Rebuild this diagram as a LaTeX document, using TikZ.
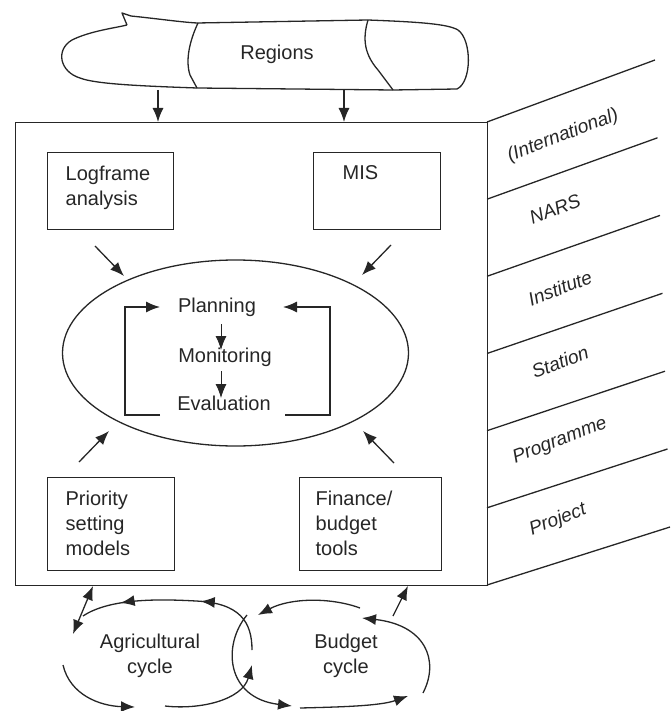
\documentclass[tikz,border=0pt]{standalone}
\usepackage{fontspec}
\setmainfont{Liberation Sans}
\usetikzlibrary{arrows.meta,decorations.markings,shapes.geometric}
\definecolor{ink}{gray}{0.15}
\tikzset{
  tip/.tip={Latex[length=14pt,width=11pt]},
  arr/.style={-tip},
  dblarr/.style={tip-tip},
  txt/.style={font=\fontsize{20}{25}\selectfont, inner sep=0pt, align=left, text=ink},
  lvl/.style={font=\fontsize{19}{22}\selectfont\itshape, rotate=21, inner sep=0pt, text=ink},
  boxnode/.style={draw=ink, line width=1.3pt, inner sep=0pt, anchor=north west},
  twomarks/.style 2 args={postaction={decorate},
    decoration={markings,
      mark=at position #1 with {\arrow{tip}},
      mark=at position #2 with {\arrow{tip}}}}
}
\begin{document}
\begin{tikzpicture}[x=1pt,y=-1pt,line width=1.3pt,color=ink]
\useasboundingbox (0,0) rectangle (670,711);

% Regions scroll
\draw[line join=round] (127,25) -- (122,13) -- (131,16)
  .. controls (160,19) and (180,22) .. (197,23) -- (368,20)
  .. controls (420,22) and (448,24) .. (458,30)
  .. controls (472,40) and (472,82) .. (457,89) -- (393,90) -- (197,88)
  .. controls (140,86) and (95,84) .. (80,78)
  .. controls (60,72) and (55,50) .. (72,40)
  .. controls (90,31) and (115,28) .. (127,25);
\draw (198,23) .. controls (190,40) and (185,60) .. (190,75) -- (197,88);
\draw (368,20) .. controls (362,40) and (365,55) .. (378,70) -- (393,90);
\node[txt, anchor=base] (regions) at (277,60) {Regions};

% main box
\node[boxnode, minimum width=472pt, minimum height=463pt] (main) at (15,122) {};
\coordinate (rs1) at (158,90);
\coordinate (rs2) at (344,90);
\draw[arr] (rs1) -- (rs1 |- main.north);
\draw[arr] (rs2) -- (rs2 |- main.north);

% level strips
\draw (487,122) -- (655,60);
\draw (487,199.2) -- (657.5,137.8);
\draw (487,276.3) -- (660,215.4);
\draw (487,353.5) -- (662.5,293.3);
\draw (487,430.7) -- (665,371.2);
\draw (487,507.8) -- (667.5,449);
\draw (487,585) -- (670,527);
\node[lvl] (intl) at (563,136) {(International)};
\node[lvl] (nars) at (555,209) {NARS};
\node[lvl] (inst) at (560,288) {Institute};
\node[lvl] (stat) at (560,362) {Station};
\node[lvl] (prog) at (560,441) {Programme};
\node[lvl] (proj) at (558,520) {Project};

% inner boxes
\node[boxnode, minimum width=126pt, minimum height=77pt] (logbox) at (47,152) {};
\node[boxnode, minimum width=127pt, minimum height=77pt] (misbox) at (313,152) {};
\node[boxnode, minimum width=127pt, minimum height=93pt] (pribox) at (47,477) {};
\node[boxnode, minimum width=142pt, minimum height=93pt] (finbox) at (299,477) {};
\node[txt, anchor=north west] (logtxt) at (65,165) {Logframe\\analysis};
\node[txt, anchor=north west] (mistxt) at (342,165) {MIS};
\node[txt, anchor=north west] (pritxt) at (65,490) {Priority\\setting\\models};
\node[txt, anchor=north west] (fintxt) at (315,490) {Finance/\\budget\\tools};

% ellipse
\node[draw=ink, line width=1.3pt, ellipse, minimum width=346pt, minimum height=186pt, inner sep=0pt] (ell) at (235.5,353) {};
\coordinate (a1s) at (95,246);  \coordinate (a1e) at (124,276);
\coordinate (a2s) at (391,245); \coordinate (a2e) at (362,275);
\coordinate (a3s) at (79,462);  \coordinate (a3e) at (109,431);
\coordinate (a4s) at (394,463); \coordinate (a4e) at (363,431);
\draw[arr] (a1s) -- (a1e);
\draw[arr] (a2s) -- (a2e);
\draw[arr] (a3s) -- (a3e);
\draw[arr] (a4s) -- (a4e);

% PME
\node[txt, anchor=base] (plan) at (217,312) {Planning};
\node[txt, anchor=base] (moni) at (225,362) {Monitoring};
\node[txt, anchor=base] (eval) at (224,410) {Evaluation};
\coordinate (lb1) at (160,307); \coordinate (lb2) at (125,307);
\coordinate (lb3) at (125,415); \coordinate (lb4) at (160,415);
\coordinate (rb1) at (283,307); \coordinate (rb2) at (330,307);
\coordinate (rb3) at (330,415); \coordinate (rb4) at (285,415);
\draw[arr] (lb4) -- (lb3) -- (lb2) -- (lb1);
\draw[arr] (rb4) -- (rb3) -- (rb2) -- (rb1);
\coordinate (pm1) at (221,324); \coordinate (pm2) at (221,350);
\coordinate (me1) at (221,371); \coordinate (me2) at (221,398);
\draw[arr, line width=0.9pt] (pm1) -- (pm2);
\draw[arr, line width=0.9pt] (me1) -- (me2);

% cycles
\node[txt, align=center, anchor=north] (agri) at (150,633) {Agricultural\\cycle};
\node[txt, align=center, anchor=north] (budg) at (346,633) {Budget\\cycle};
\coordinate (d1) at (73,634); \coordinate (d2) at (93,586);
\draw[dblarr] (d1) -- (d2);
\coordinate (b1) at (393,616); \coordinate (b2) at (408,586);
\draw[arr] (b1) -- (b2);

\coordinate (at0) at (252,650); \coordinate (at1) at (196,601); \coordinate (at2) at (83,616);
\draw[twomarks={0.40}{0.80}] (at0) .. controls (252,622) and (240,603) .. (at1)
   .. controls (160,599) and (110,598) .. (at2);
\coordinate (al0) at (63,665); \coordinate (al1) at (135,707);
\draw[arr] (al0) .. controls (70,695) and (100,706) .. (al1);
\coordinate (ar0) at (165,706); \coordinate (ar1) at (252,665);
\draw[arr] (ar0) .. controls (200,710) and (242,700) .. (ar1);

\coordinate (bl0) at (247,615); \coordinate (bl1) at (292,706);
\draw[arr] (bl0) .. controls (222,645) and (226,698) .. (bl1);
\coordinate (bt0) at (360,608); \coordinate (bt1) at (258,615);
\draw[arr] (bt0) .. controls (330,597) and (290,598) .. (bt1);
\coordinate (br0) at (423,693); \coordinate (br1) at (362,618);
\draw[arr] (br0) .. controls (440,660) and (425,625) .. (br1);
\coordinate (bb0) at (300,708); \coordinate (bb1) at (408,696);
\draw[arr] (bb0) .. controls (340,707) and (380,706) .. (bb1);
\end{tikzpicture}
\end{document}
